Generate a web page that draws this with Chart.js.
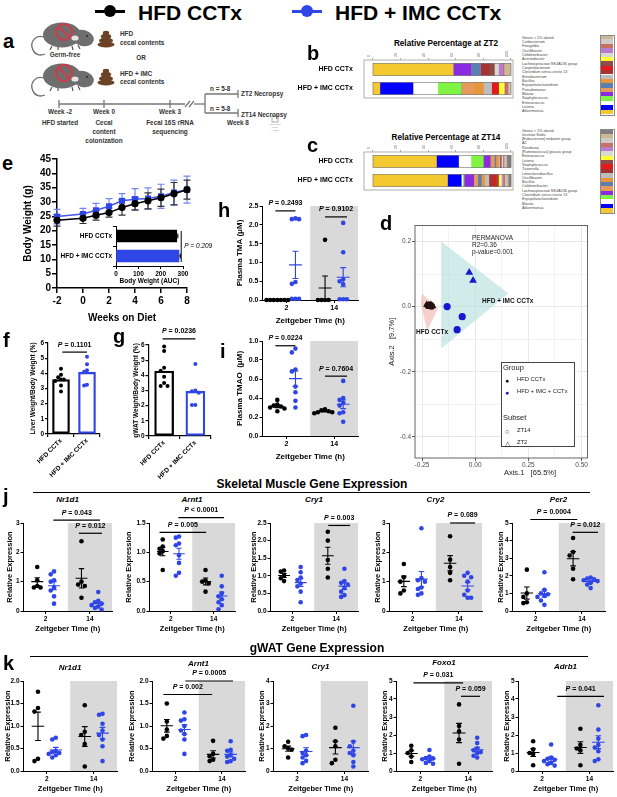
<!DOCTYPE html>
<html>
<head>
<meta charset="utf-8">
<script src="https://cdn.jsdelivr.net/npm/chart.js@4.4.1/dist/chart.umd.min.js"></script>
<style>
  body { margin: 0; background: #fff; font-family: "Liberation Sans", Arial, sans-serif; }
  #fig { position: relative; width: 617px; height: 797px; overflow: hidden; background: #fff; }
  .t { position: absolute; white-space: nowrap; line-height: 1; }
  canvas { position: absolute; }
</style>
</head>
<body>
<div id="fig"></div>
<script>
// ---------- data ----------
const groupLabels = ['HFD CCTx', 'HFD + IMC CCTx'];
const ztLabels = ['2', '14'];

// e: body weight
const weeks = [-2, 0, 1, 2, 3, 4, 5, 6, 7, 8];
const bwHfd = [23.6, 24.3, 25.4, 26.3, 28.1, 29.4, 30.4, 31.5, 32.9, 34.3];
const bwHfdSd = [2.0, 1.8, 1.7, 1.6, 2.7, 2.2, 2.8, 3.0, 3.9, 3.3];
const bwImc = [24.9, 25.8, 27.1, 28.5, 30.4, 31.0, 31.2, 32.0, 33.3, 34.3];
const bwImcSd = [2.5, 2.0, 2.4, 2.7, 2.5, 3.7, 3.7, 4.2, 4.3, 4.7];
const aucValues = [272, 282];
const aucSem = [5, 6];

// f, g
const liverHfd = [4.3, 3.9, 3.75, 3.6, 3.6, 3.5, 3.2, 2.8];
const liverImc = [5.1, 4.6, 4.2, 4.1, 3.25, 3.2];
const gwatHfd = [5.9, 5.6, 4.5, 4.3, 3.9, 3.5, 3.3, 3.3];
const gwatImc = [4.75, 3.0, 2.95, 2.85, 2.05, 2.05];

// h, i : [HFD ZT2, IMC ZT2, HFD ZT14, IMC ZT14]
const tma = [[0, 0, 0, 0, 0, 0, 0], [2.17, 2.15, 2.15, 0.48, 0.43, 0.03, 0.03, 0.03], [1.6, 0, 0, 0, 0], [2.05, 1.27, 0.55, 0.5, 0.42, 0.02, 0.02, 0.02]];
const tmao = [[0.38, 0.33, 0.32, 0.31, 0.3, 0.29, 0.26], [0.92, 0.88, 0.7, 0.68, 0.52, 0.46, 0.37, 0.3], [0.28, 0.27, 0.26, 0.25, 0.25, 0.24], [0.58, 0.4, 0.38, 0.35, 0.32, 0.25, 0.24, 0.15]];

// j: skeletal muscle
const muscleGenes = ['Nr1d1', 'Arnt1', 'Cry1', 'Cry2', 'Per2'];
const muNr1d1 = [[1.5, 1.05, 0.85, 0.8, 0.8], [1.35, 1.25, 1.05, 1.0, 0.8, 0.7, 0.5, 0.25], [2.38, 1.0, 0.9, 0.85, 0.45], [0.65, 0.35, 0.3, 0.25, 0.2, 0.15, 0.1, 0.05]];
const muArnt1 = [[1.22, 1.1, 1.06, 1.02, 0.98, 0.7], [1.27, 1.25, 1.15, 1.12, 0.95, 0.82, 0.65, 0.6], [0.7, 0.52, 0.5, 0.47, 0.33], [0.6, 0.42, 0.3, 0.25, 0.2, 0.15, 0.1, 0.03]];
const muCry1 = [[1.15, 1.12, 1.0, 0.93, 0.85], [1.25, 1.1, 0.95, 0.88, 0.78, 0.7, 0.55, 0.25], [2.25, 2.0, 1.45, 1.2, 0.95], [1.2, 0.85, 0.8, 0.75, 0.65, 0.55, 0.45, 0.4]];
const muCry2 = [[1.6, 1.15, 1.0, 0.7, 0.6], [2.82, 1.12, 1.05, 1.0, 0.8, 0.75, 0.6, 0.55], [2.55, 1.75, 1.5, 1.3, 1.05], [1.3, 1.2, 1.15, 1.0, 0.7, 0.55, 0.45, 0.45]];
const muPer2 = [[2.35, 1.0, 0.8, 0.5, 0.45], [2.2, 1.2, 1.0, 0.95, 0.85, 0.8, 0.6, 0.35], [4.15, 3.35, 3.15, 2.4, 1.8], [1.9, 1.85, 1.8, 1.75, 1.7, 1.6, 1.5, 1.3]];
const musclePvals = [['= 0.043', '= 0.012'], ['< 0.0001', '= 0.005'], ['= 0.003'], ['= 0.089'], ['= 0.0004', '= 0.012']];

// k: gWAT
const watGenes = ['Nr1d1', 'Arnt1', 'Cry1', 'Foxo1', 'Adrb1'];
const watNr1d1 = [[1.76, 1.4, 1.32, 0.27, 0.22], [0.74, 0.7, 0.45, 0.42, 0.4, 0.38, 0.35, 0.3], [1.46, 0.87, 0.8, 0.6, 0.1], [1.27, 1.25, 1.05, 0.9, 0.8, 0.7, 0.55, 0.22]];
const watArnt1 = [[1.5, 1.1, 0.92, 0.78, 0.72], [1.3, 1.15, 1.12, 1.0, 0.9, 0.82, 0.7, 0.38], [0.67, 0.38, 0.33, 0.25, 0.22], [0.66, 0.47, 0.45, 0.36, 0.32, 0.27, 0.22, 0.2]];
const watCry1 = [[1.3, 1.1, 1.0, 0.95, 0.6], [1.6, 1.55, 0.9, 0.8, 0.7, 0.6, 0.45, 0.35], [1.92, 1.32, 1.1, 0.5, 0.35], [2.9, 1.3, 1.1, 0.9, 0.8, 0.7, 0.4, 0.2]];
const watFoxo1 = [[1.4, 1.15, 1.0, 0.8, 0.5], [1.17, 0.8, 0.72, 0.7, 0.65, 0.55, 0.45, 0.4], [3.7, 2.5, 2.2, 1.75, 0.4], [1.85, 1.55, 1.25, 1.15, 1.05, 1.0, 0.85, 0.75]];
const watAdrb1 = [[1.65, 1.2, 1.0, 0.95, 0.32], [1.47, 0.75, 0.68, 0.62, 0.55, 0.45, 0.38, 0.3], [2.35, 1.45, 1.25, 1.15, 0.32], [3.65, 2.3, 1.8, 1.45, 1.3, 1.1, 0.65, 0.55]];
const watPvals = [[], ['= 0.0005', '= 0.002'], [], ['= 0.031', '= 0.059'], ['= 0.041']];

// b, c: relative abundance (legend order, top to bottom)
const zt2Genera = ['Genus < 1% abund.', 'Cutibacterium', 'Finegoldia', 'Oscillibacter', 'Colidextribacter', 'Acinetobacter', 'Lachnospiraceae NK4A136 group', 'Corynebacterium', 'Clostridium sensu stricto 13', 'Brevibacterium', 'Bacillus', 'Erysipelatoclostridium', 'Pseudomonas', 'Blautia', 'Staphylococcus', 'Enterococcus', 'Listeria', 'Akkermansia'];
const zt2Colors = ['#cbb995', '#cfcbc6', '#c77067', '#b77bd1', '#d9d9d0', '#ffff33', '#8e4b4b', '#e31a1c', '#a83232', '#bdbdbd', '#e8963c', '#5b7fb3', '#e39a5b', '#8a2be2', '#7ff442', '#ffffff', '#0000ff', '#f4c92f'];
const zt2Hfd = [5, 0, 1, 3, 3, 0, 4, 0, 6, 0, 0, 7, 0, 13, 0, 0, 0, 58];
const zt2Imc = [1, 1, 3, 0, 0, 4, 0, 5, 0, 6, 7, 0, 9, 0, 17, 18, 24, 5];
const zt14Genera = ['Genus < 1% abund.', 'Incertae Sedis', '[Eubacterium] nodatum group', 'A2', 'Roseburia', '[Ruminococcus] gnavus group', 'Enterococcus', 'Listeria', 'Staphylococcus', 'Tuzzerella', 'Limosilactobacillus', 'Oscillibacter', 'Bacillus', 'Colidextribacter', 'Lachnospiraceae NK4A136 group', 'Clostridium sensu stricto 13', 'Erysipelatoclostridium', 'Blautia', 'Akkermansia'];
const zt14Colors = ['#7f7f7f', '#cbb995', '#cfcbc6', '#c77067', '#b77bd1', '#d9d9d0', '#ffff33', '#8e4b4b', '#e31a1c', '#a83232', '#bdbdbd', '#e8963c', '#5b7fb3', '#e39a5b', '#8a2be2', '#7ff442', '#ffffff', '#0000ff', '#f4c92f'];
const zt14Hfd = [3, 1, 1, 0.5, 0.5, 1, 0, 0.5, 0, 0.5, 1, 2, 1, 3, 5, 9, 9, 16, 46];
const zt14Imc = [2, 1.5, 1, 1, 1, 1, 1.5, 1.5, 2, 3.5, 3, 2.5, 2.5, 3, 7, 1, 1, 10, 54];

// d: PCoA
const pcoaHfdZt2 = [[-0.228, 0.006], [-0.218, 0.004], [-0.208, 0.006], [-0.2, 0.002], [-0.213, -0.001]];
const pcoaHfdZt14 = [[-0.222, 0.003], [-0.205, 0.001], [-0.214, 0.005]];
const pcoaImcZt2 = [[-0.028, 0.105], [-0.01, 0.08]];
const pcoaImcZt14 = [[-0.132, 0.0], [-0.061, -0.031], [-0.085, -0.071]];
const hullHfd = [[-0.25, 0.04], [-0.175, -0.006], [-0.226, -0.074], [-0.255, 0.009]];
const hullImc = [[-0.16, 0.2], [0.156, 0.04], [-0.16, -0.129]];

// ---------- setup ----------
const FAM = '"Liberation Sans", Arial, sans-serif';
const BLUE = '#2f45e6';
const CENTERS = [0.62, 1.38, 2.62, 3.38];
const GROUP_COLORS = ['#000', BLUE, '#000', BLUE];
Chart.defaults.font.family = FAM;
Chart.defaults.color = '#000';
Chart.defaults.plugins.legend.display = false;
Chart.defaults.plugins.tooltip.enabled = false;

const fig = document.getElementById('fig');

function text(str, x, y, size, o = {}) {
  const d = document.createElement('div');
  d.className = 't';
  d.innerHTML = str;
  d.style.left = x + 'px';
  d.style.top = y + 'px';
  d.style.fontSize = size + 'px';
  d.style.fontWeight = o.bold === false ? 'normal' : 'bold';
  if (o.italic) d.style.fontStyle = 'italic';
  d.style.color = o.color || '#000';
  const tx = o.align === 'center' ? '-50%' : o.align === 'right' ? '-100%' : '0';
  d.style.transform = 'translate(' + tx + ',-50%)';
  fig.appendChild(d);
  return d;
}

function letter(ch, x, baseline) {
  const d = document.createElement('div');
  d.className = 't';
  d.textContent = ch;
  d.style.cssText += 'left:' + x + 'px;top:' + (baseline - 17) + 'px;font-size:20px;line-height:20px;font-weight:bold;';
  fig.appendChild(d);
}

function box(x, y, w, h, css) {
  const d = document.createElement('div');
  d.style.cssText = 'position:absolute;left:' + x + 'px;top:' + y + 'px;width:' + w + 'px;height:' + h + 'px;' + css;
  fig.appendChild(d);
  return d;
}

function makeChart(rect, pad, config) {
  const [l, t, r, b] = rect;
  const [pl, pt, pr, pb] = pad;
  const w = Math.round(r - l + pl + pr), h = Math.round(b - t + pt + pb);
  const c = document.createElement('canvas');
  c.width = w; c.height = h;
  c.style.left = Math.round(l - pl) + 'px';
  c.style.top = Math.round(t - pt) + 'px';
  c.style.width = w + 'px'; c.style.height = h + 'px';
  fig.appendChild(c);
  const opts = config.options;
  opts.responsive = false;
  opts.animation = false;
  const used = {};
  for (const id in opts.scales) {
    const s = opts.scales[id];
    if (s.display === false) continue;
    const pos = s.position || (id[0] === 'y' ? 'left' : 'bottom');
    used[pos] = true;
    const size = {left: pl, top: pt, right: pr, bottom: pb}[pos];
    s.afterFit = sc => {
      if (pos === 'left' || pos === 'right') sc.width = size; else sc.height = size;
      sc.paddingLeft = sc.paddingRight = sc.paddingTop = sc.paddingBottom = 0;
    };
  }
  opts.layout = {padding: {left: used.left ? 0 : pl, top: used.top ? 0 : pt, right: used.right ? 0 : pr, bottom: used.bottom ? 0 : pb}};
  return new Chart(c, config);
}

function swarm(vals, tol, w) {
  const cands = [0, -0.5, 0.5, -1, 1, -0.25, 0.25, -0.75, 0.75, -1.25, 1.25, -1.5, 1.5];
  const placed = [];
  return vals.map(v => {
    let c = cands.find(k => !placed.some(p => Math.abs(p.v - v) < tol && Math.abs(p.c - k) < 0.5));
    if (c === undefined) c = 0;
    placed.push({v, c});
    return c * w;
  });
}

function stats(vals) {
  const n = vals.length;
  const m = vals.reduce((a, v) => a + v, 0) / n;
  const sd = Math.sqrt(vals.reduce((a, v) => a + (v - m) * (v - m), 0) / (n - 1));
  return {m, se: sd / Math.sqrt(n)};
}

function drawP(ctx, str, cx, cy, size, allItalic) {
  const f1 = 'italic bold ' + size + 'px ' + FAM;
  const f2 = (allItalic ? 'italic ' : '') + 'bold ' + size + 'px ' + FAM;
  const rest = ' ' + str;
  ctx.font = f1; const w1 = ctx.measureText('P').width;
  ctx.font = f2; const w2 = ctx.measureText(rest).width;
  const x0 = cx - (w1 + w2) / 2;
  ctx.textBaseline = 'middle'; ctx.textAlign = 'left'; ctx.fillStyle = '#000';
  ctx.font = f1; ctx.fillText('P', x0, cy);
  ctx.font = f2; ctx.fillText(rest, x0 + w1, cy);
}

const shadePlugin = {
  id: 'shade',
  beforeDraw(chart) {
    const {ctx, chartArea: a, scales: {x}} = chart;
    const x0 = x.getPixelForValue(2);
    ctx.save(); ctx.fillStyle = '#d9d9d9';
    ctx.fillRect(x0, a.top, a.right - x0, a.bottom - a.top);
    ctx.restore();
  }
};

function meanSemPlugin(groups) {
  return {
    id: 'meanSem',
    afterDatasetsDraw(chart) {
      const {ctx, scales: {x, y}} = chart;
      groups.forEach((vals, g) => {
        const {m, se} = stats(vals);
        const cx = x.getPixelForValue(CENTERS[g]);
        const half = (x.getPixelForValue(1) - x.getPixelForValue(0)) * 0.27;
        const cap = half * 0.45;
        const py = y.getPixelForValue(m), top = y.getPixelForValue(m + se), bot = y.getPixelForValue(Math.max(m - se, 0));
        ctx.save(); ctx.strokeStyle = GROUP_COLORS[g]; ctx.lineWidth = 1.1;
        ctx.beginPath();
        ctx.moveTo(cx - half, py); ctx.lineTo(cx + half, py);
        ctx.moveTo(cx, top); ctx.lineTo(cx, bot);
        ctx.moveTo(cx - cap, top); ctx.lineTo(cx + cap, top);
        ctx.moveTo(cx - cap, bot); ctx.lineTo(cx + cap, bot);
        ctx.stroke(); ctx.restore();
      });
    }
  };
}

function sigPlugin(list, size) {
  return {
    id: 'sig',
    afterDraw(chart) {
      const {ctx, scales: {x, y}} = chart;
      list.forEach(s => {
        const x1 = x.getPixelForValue(s.x1), x2 = x.getPixelForValue(s.x2), py = y.getPixelForValue(s.y);
        ctx.save(); ctx.strokeStyle = '#000'; ctx.lineWidth = 1.2;
        ctx.beginPath(); ctx.moveTo(x1, py); ctx.lineTo(x2, py); ctx.stroke();
        drawP(ctx, s.p, (x1 + x2) / 2, py - 7.5, size || 7, false);
        ctx.restore();
      });
    }
  };
}

function axisStyle(tick, tickLen, lw) {
  return {
    ticks: {font: {size: tick, weight: 'bold'}, color: '#000', padding: 1, autoSkip: false, maxRotation: 0},
    grid: {drawOnChartArea: false, drawTicks: true, tickLength: tickLen, color: '#000', lineWidth: lw},
    border: {color: '#000', width: lw}
  };
}

function dotPlot(rect, pad, groups, cfg) {
  const plotH = rect[3] - rect[1];
  const tol = cfg.ymax * 4.5 / plotH;
  const datasets = groups.map((vals, g) => {
    const offs = swarm(vals, tol, 0.3);
    return {data: vals.map((v, i) => ({x: CENTERS[g] + offs[i], y: v})), backgroundColor: GROUP_COLORS[g], pointRadius: 2.3, pointBorderWidth: 0, clip: false};
  });
  const xs = axisStyle(cfg.tick, 3, 1), ys = axisStyle(cfg.tick, 3, 1);
  return makeChart(rect, pad, {
    type: 'scatter',
    data: {datasets},
    options: {
      scales: {
        x: Object.assign(xs, {
          type: 'linear', min: 0, max: 4,
          afterBuildTicks: s => { s.ticks = [{value: 1}, {value: 3}]; },
          title: {display: true, text: 'Zeitgeber Time (h)', font: {size: cfg.title, weight: 'bold'}, color: '#000', padding: 0}
        }),
        y: Object.assign(ys, {
          type: 'linear', min: 0, max: cfg.ymax,
          title: {display: true, text: cfg.ytitle, font: {size: cfg.title, weight: 'bold'}, color: '#000', padding: 0}
        })
      }
    },
    plugins: [shadePlugin, meanSemPlugin(groups), sigPlugin(cfg.sig || []),
      {id: 'fmt', beforeInit(chart) {
        chart.options.scales.x.ticks.callback = v => v === 1 ? ztLabels[0] : ztLabels[1];
        chart.options.scales.y.ticks.stepSize = cfg.step;
        chart.options.scales.y.ticks.callback = v => v.toFixed(cfg.dec);
      }}]
  });
}

// bar + dots on one linear x scale: group 0 at x=0, group 1 at x=1
function barDots(rect, pad, hfd, imc, ytitle, sig, barPx) {
  const tol = 6 * 4.5 / (rect[3] - rect[1]);
  const o0 = swarm(hfd, tol, 0.22), o1 = swarm(imc, tol, 0.22);
  const xs = axisStyle(6.5, 3, 1.2), ys = axisStyle(6.5, 3, 1.2);
  xs.ticks.maxRotation = 45; xs.ticks.minRotation = 45; xs.ticks.padding = 0;
  return makeChart(rect, pad, {
    type: 'bar',
    data: {
      datasets: [
        {type: 'scatter', data: hfd.map((v, i) => ({x: o0[i], y: v})), backgroundColor: '#000', pointRadius: 2, pointBorderWidth: 0, clip: false},
        {type: 'scatter', data: imc.map((v, i) => ({x: 1 + o1[i], y: v})), backgroundColor: BLUE, pointRadius: 2, pointBorderWidth: 0, clip: false},
        {type: 'bar', data: [{x: 0, y: stats(hfd).m}, {x: 1, y: stats(imc).m}], backgroundColor: 'rgba(255,255,255,0)', borderColor: ['#000', BLUE], borderWidth: 1.6, borderSkipped: false, barThickness: barPx}
      ]
    },
    options: {
      scales: {
        x: Object.assign(xs, {type: 'linear', offset: false, min: -0.5, max: 1.5,
          afterBuildTicks: s => { s.ticks = [{value: 0}, {value: 1}]; }}),
        y: Object.assign(ys, {type: 'linear', min: 0, max: 6,
          title: {display: true, text: ytitle, font: {size: 6.5, weight: 'bold'}, color: '#000', padding: 0}})
      }
    },
    plugins: [sigPlugin(sig, 7),
      {id: 'fmt', beforeInit(chart) {
        chart.options.scales.x.ticks.callback = v => groupLabels[Math.round(v)];
        chart.options.scales.y.ticks.stepSize = 1;
      }}]
  });
}

function stackChart(rect, pad, genera, colors, hfd, imc) {
  const datasets = [];
  for (let i = genera.length - 1; i >= 0; i--) {
    datasets.push({label: genera[i], data: [hfd[i], imc[i]], backgroundColor: colors[i], borderWidth: 0, barThickness: 12});
  }
  return makeChart(rect, pad, {
    type: 'bar',
    data: {labels: groupLabels, datasets},
    options: {
      indexAxis: 'y',
      scales: {
        x: {stacked: true, position: 'top', min: -6.5, max: 101.5,
          afterBuildTicks: s => { s.ticks = [0, 20, 40, 60, 80, 100].map(v => ({value: v})); },
          ticks: {font: {size: 3.5, weight: 'normal'}, color: '#666', padding: 1, minRotation: 90, maxRotation: 90, autoSkip: false},
          grid: {drawOnChartArea: false, tickLength: 2, color: '#777', lineWidth: 0.6},
          border: {display: false}},
        y: {stacked: true,
          ticks: {font: {size: 7, weight: 'bold'}, color: '#000', padding: 3},
          grid: {display: false}, border: {display: false}}
      }
    },
    plugins: [{
      id: 'frame',
      afterDraw(chart) {
        const {ctx, chartArea: a, scales: {x, y}} = chart;
        ctx.save(); ctx.strokeStyle = '#9a9a9a'; ctx.lineWidth = 0.8;
        ctx.strokeRect(a.left, a.top, a.right - a.left, a.bottom - a.top);
        ctx.strokeStyle = '#6e6e6e'; ctx.lineWidth = 0.6;
        [0, 1].forEach(i => {
          const py = y.getPixelForValue(i);
          ctx.strokeRect(x.getPixelForValue(0), py - 6, x.getPixelForValue(100) - x.getPixelForValue(0), 12);
        });
        ctx.restore();
      }
    }]
  });
}

function genusLegend(names, colors, tx, ty0, step, sx, sy0, sh) {
  names.forEach((n, i) => {
    text(n, tx, ty0 + i * step, 3.7, {bold: false, color: '#444'});
    box(sx, sy0 + i * sh, 13, sh, 'background:' + colors[i] + ';');
  });
  box(sx - 0.5, sy0 - 0.5, 13, sh * names.length, 'border:0.5px solid #888;');
}

// ---------- top legend ----------
box(95, 10, 30, 2.5, 'background:#000;');
box(104, 5, 12, 12, 'background:#000;border-radius:50%;');
text('HFD CCTx', 138, 12, 21);
box(292, 10, 30, 2.5, 'background:' + BLUE + ';');
box(301, 5, 12, 12, 'background:' + BLUE + ';border-radius:50%;');
text('HFD + IMC CCTx', 335, 12, 21);

// ---------- a: schematic ----------
function mouseSvg(dy) {
  return '<g transform="translate(0,' + dy + ')">' +
    '<path d="M46 38 C36 33, 29 42, 33 50 C35 55, 40 56, 45 54" stroke="#6a6a6a" stroke-width="1.3" fill="none"/>' +
    '<ellipse cx="62" cy="35" rx="19" ry="12.5" fill="#6e6e6e"/>' +
    '<ellipse cx="83" cy="38" rx="11" ry="8" transform="rotate(15 83 38)" fill="#6e6e6e"/>' +
    '<ellipse cx="75" cy="38" rx="3.6" ry="2.6" fill="#e4e4e4"/>' +
    '<circle cx="87" cy="36" r="0.9" fill="#222"/>' +
    '<path d="M52 46 l-2 4 M58 47 l0 3 M72 46 l1 4 M78 45 l2 4" stroke="#555" stroke-width="1.2"/>' +
    '<circle cx="64" cy="32" r="8" stroke="#d23a4a" stroke-width="2" fill="none"/>' +
    '<line x1="58.5" y1="26.5" x2="69.5" y2="37.5" stroke="#d23a4a" stroke-width="2"/>' +
    '</g>';
}
function poopSvg(dy) {
  return '<g transform="translate(0,' + dy + ')" fill="#6b4226">' +
    '<ellipse cx="106" cy="44.5" rx="8.5" ry="3"/>' +
    '<ellipse cx="106" cy="40.5" rx="7" ry="3"/>' +
    '<ellipse cx="106" cy="36.5" rx="5.2" ry="2.7"/>' +
    '<ellipse cx="106" cy="33" rx="3.2" ry="2.2"/>' +
    '</g>';
}
const svg = document.createElementNS('http://www.w3.org/2000/svg', 'svg');
svg.setAttribute('width', '300'); svg.setAttribute('height', '150');
svg.style.cssText = 'position:absolute;left:0;top:0;';
svg.innerHTML = mouseSvg(0) + mouseSvg(41) + poopSvg(0) + poopSvg(38) +
  '<g stroke="#777" stroke-width="1.3" fill="none">' +
  '<line x1="59" y1="104" x2="185" y2="104"/>' +
  '<line x1="59" y1="100" x2="59" y2="108"/><line x1="104" y1="100" x2="104" y2="108"/><line x1="170" y1="100" x2="170" y2="108"/>' +
  '<line x1="185" y1="107" x2="190" y2="101"/><line x1="189" y1="107" x2="194" y2="101"/>' +
  '<line x1="194" y1="104" x2="205" y2="104"/><line x1="205" y1="94" x2="205" y2="113"/>' +
  '<line x1="205" y1="94" x2="238" y2="94"/><line x1="205" y1="113" x2="238" y2="113"/>' +
  '<line x1="238" y1="90" x2="238" y2="98"/><line x1="238" y1="109" x2="238" y2="117"/>' +
  '<rect x="272" y="116" width="6" height="6" stroke="#999" stroke-width="0.8"/>' +
  '</g>';
fig.appendChild(svg);
const SC = '#333';
text('Germ-free', 65, 55, 6.4, {align: 'center', color: SC});
text('HFD', 120, 34, 6.4, {color: SC});
text('cecal contents', 120, 43, 6.4, {color: SC});
text('OR', 141, 58, 6.4, {align: 'center', color: SC});
text('HFD + IMC', 120, 74, 6.4, {color: SC});
text('cecal contents', 120, 82, 6.4, {color: SC});
text('n = 5-8', 210, 89, 6.4, {color: SC});
text('n = 5-8', 210, 109, 6.4, {color: SC});
text('ZT2 Necropsy', 241, 94, 6.4, {color: SC});
text('ZT14 Necropsy', 241, 115, 6.4, {color: SC});
text('Week 8', 227, 123, 6.4, {color: SC});
text('Week -2', 60, 112, 6.4, {align: 'center', color: SC});
text('HFD started', 60, 123, 6.4, {align: 'center', color: SC});
text('Week 0', 104, 112, 6.4, {align: 'center', color: SC});
text('Cecal', 104, 123, 6.4, {align: 'center', color: SC});
text('content', 104, 132, 6.4, {align: 'center', color: SC});
text('colonization', 104, 141, 6.4, {align: 'center', color: SC});
text('Week 3', 170, 112, 6.4, {align: 'center', color: SC});
text('Fecal 16S rRNA', 170, 123, 6.4, {align: 'center', color: SC});
text('sequencing', 170, 132, 6.4, {align: 'center', color: SC});
text('Cleveland', 275, 125, 2.5, {align: 'center', bold: false, color: '#999'});
text('Clinic', 275, 128, 2.5, {align: 'center', bold: false, color: '#999'});
text('©2022', 275, 131, 2.5, {align: 'center', bold: false, color: '#999'});

// ---------- b, c ----------
stackChart([364, 60, 513, 98], [74, 10, 2, 2], zt2Genera, zt2Colors, zt2Hfd, zt2Imc);
stackChart([364, 152, 513, 190], [74, 10, 2, 2], zt14Genera, zt14Colors, zt14Hfd, zt14Imc);
text('Relative Percentage at ZT2', 446, 44, 8.2, {align: 'center'});
text('Relative Percentage at ZT14', 446, 138, 8.2, {align: 'center'});
genusLegend(zt2Genera, zt2Colors, 522, 38.5, 4.35, 600, 35, 4.39);
genusLegend(zt14Genera, zt14Colors, 522, 131.5, 4.3, 600, 129.5, 4.37);

// ---------- e ----------
function errPlugin(sets) {
  return {
    id: 'err',
    beforeDatasetsDraw(chart) {
      const {ctx, scales: {x, y}} = chart;
      sets.forEach(s => {
        ctx.save(); ctx.strokeStyle = s.color; ctx.lineWidth = 1.2;
        s.x.forEach((xv, i) => {
          const px = x.getPixelForValue(xv), top = y.getPixelForValue(s.y[i] + s.e[i]), bot = y.getPixelForValue(s.y[i] - s.e[i]);
          ctx.beginPath();
          ctx.moveTo(px, top); ctx.lineTo(px, bot);
          ctx.moveTo(px - 3.5, top); ctx.lineTo(px + 3.5, top);
          ctx.moveTo(px - 3.5, bot); ctx.lineTo(px + 3.5, bot);
          ctx.stroke();
        });
        ctx.restore();
      });
    }
  };
}
{
  const xs = axisStyle(10, 5, 1.5), ys = axisStyle(10, 5, 1.5);
  xs.ticks.stepSize = 2; xs.ticks.padding = 2;
  ys.ticks.stepSize = 5;
  makeChart([57, 158.6, 187, 288], [35, 6, 6, 36], {
    type: 'scatter',
    data: {datasets: [
      {data: weeks.map((w, i) => ({x: w, y: bwHfd[i]})), showLine: true, borderColor: '#000', borderWidth: 1.5, pointRadius: 3.6, pointBackgroundColor: '#000', pointBorderWidth: 0, clip: false},
      {data: weeks.map((w, i) => ({x: w, y: bwImc[i]})), showLine: true, borderColor: '#4356ea', borderWidth: 1.5, pointStyle: 'rect', pointRadius: 4.3, pointBackgroundColor: BLUE, pointBorderWidth: 0, clip: false}
    ]},
    options: {
      scales: {
        x: Object.assign(xs, {type: 'linear', min: -2, max: 8,
          title: {display: true, text: 'Weeks on Diet', font: {size: 10, weight: 'bold'}, color: '#000', padding: 0}}),
        y: Object.assign(ys, {type: 'linear', min: 0, max: 45,
          title: {display: true, text: 'Body Weight (g)', font: {size: 10, weight: 'bold'}, color: '#000', padding: 0}})
      }
    },
    plugins: [errPlugin([
      {x: weeks, y: bwImc, e: bwImcSd, color: '#7586ee'},
      {x: weeks, y: bwHfd, e: bwHfdSd, color: '#333'}
    ])]
  });
}
{
  const xs = axisStyle(6.5, 3, 1), ys = axisStyle(6.5, 3, 1);
  xs.ticks.stepSize = 100;
  makeChart([116, 226, 183, 266], [64, 4, 34, 19], {
    type: 'bar',
    data: {labels: groupLabels, datasets: [{data: aucValues, backgroundColor: ['#000', BLUE], barThickness: 12, borderWidth: 0}]},
    options: {
      indexAxis: 'y',
      scales: {
        x: Object.assign(xs, {type: 'linear', min: 0, max: 300,
          title: {display: true, text: 'Body Weight (AUC)', font: {size: 6.5, weight: 'bold'}, color: '#000', padding: 0}}),
        y: Object.assign(ys, {type: 'category'})
      }
    },
    plugins: [{
      id: 'auc',
      afterDatasetsDraw(chart) {
        const {ctx, scales: {x, y}} = chart;
        ctx.save(); ctx.strokeStyle = '#000'; ctx.lineWidth = 1;
        aucValues.forEach((v, i) => {
          const py = y.getPixelForValue(i), x0 = x.getPixelForValue(v), x1 = x.getPixelForValue(v + aucSem[i]);
          ctx.beginPath(); ctx.moveTo(x0, py); ctx.lineTo(x1, py);
          ctx.moveTo(x1, py - 2.5); ctx.lineTo(x1, py + 2.5); ctx.stroke();
        });
        const bx = x.getPixelForValue(292);
        const y0 = y.getPixelForValue(0) - 5, y1 = y.getPixelForValue(1) + 6;
        ctx.beginPath(); ctx.moveTo(bx, y0); ctx.lineTo(bx, y1); ctx.stroke();
        ctx.font = 'italic 6.5px ' + FAM; ctx.fillStyle = '#000'; ctx.textBaseline = 'middle';
        ctx.fillText('P = 0.209', bx + 3, (y0 + y1) / 2);
        ctx.restore();
      }
    }]
  });
}

// ---------- f, g ----------
barDots([48, 343, 100, 434], [19, 10, 4, 45], liverHfd, liverImc, 'Liver Weight/Body Weight (%)',
  [{x1: 0.05, x2: 1.0, y: 5.4, p: '= 0.1101'}], 17);
barDots([148, 345, 210, 436], [16.5, 18, 4, 45], gwatHfd, gwatImc, 'gWAT Weight/Body Weight (%)',
  [{x1: -0.05, x2: 1.0, y: 6.4, p: '= 0.0236'}], 19);

// ---------- h, i ----------
dotPlot([262, 206, 358, 300], [27.5, 10, 3, 26], tma, {ymax: 2.5, step: 0.5, dec: 1, tick: 7, title: 8, ytitle: 'Plasma TMA (\u03bcM)',
  sig: [{x1: 0.54, x2: 1.38, y: 2.37, p: '= 0.2493'}, {x1: 2.62, x2: 3.54, y: 2.21, p: '= 0.9102'}]});
dotPlot([262, 341, 358, 436], [27.5, 10, 3, 26], tmao, {ymax: 1.0, step: 0.2, dec: 1, tick: 7, title: 8, ytitle: 'Plasma TMAO  (\u03bcM)',
  sig: [{x1: 0.54, x2: 1.38, y: 0.95, p: '= 0.0224'}, {x1: 2.62, x2: 3.54, y: 0.63, p: '= 0.7604'}]});

// ---------- d ----------
{
  const major = (v, s) => Math.abs(Math.round(v / s) * s - v) < 1e-6;
  const fmt = (v, d) => Math.abs(v) < 1e-9 ? (0).toFixed(d) : v.toFixed(d);
  const gridColor = s => c => c.tick && major(c.tick.value, s) ? '#e2e2e2' : '#f0f0f0';
  const tickColor = s => c => c.tick && major(c.tick.value, s) ? '#333' : 'rgba(0,0,0,0)';
  const pts = a => a.map(([x, y]) => ({x, y}));
  makeChart([415, 225, 588, 458], [28, 4, 4, 14], {
    type: 'scatter',
    data: {datasets: [
      {data: pts(pcoaHfdZt2), pointStyle: 'triangle', pointRadius: 4.2, backgroundColor: '#231212', pointBorderWidth: 0, order: 1, clip: false},
      {data: pts(pcoaHfdZt14), pointStyle: 'circle', pointRadius: 3.5, backgroundColor: '#231212', pointBorderWidth: 0, order: 1, clip: false},
      {data: pts(pcoaImcZt2), pointStyle: 'triangle', pointRadius: 4.5, backgroundColor: '#1717d0', pointBorderWidth: 0, order: 1, clip: false},
      {data: pts(pcoaImcZt14), pointStyle: 'circle', pointRadius: 3.6, backgroundColor: '#1717d0', pointBorderWidth: 0, order: 1, clip: false},
      {type: 'line', data: pts(hullHfd.concat([hullHfd[0]])), fill: 'shape', backgroundColor: 'rgba(240,170,160,0.55)', borderColor: 'rgba(0,0,0,0)', borderWidth: 0, pointRadius: 0, order: 5},
      {type: 'line', data: pts(hullImc.concat([hullImc[0]])), fill: 'shape', backgroundColor: 'rgba(176,222,218,0.6)', borderColor: 'rgba(0,0,0,0)', borderWidth: 0, pointRadius: 0, order: 5}
    ]},
    options: {
      scales: {
        x: {type: 'linear', min: -0.283, max: 0.528,
          ticks: {stepSize: 0.125, includeBounds: false, autoSkip: false, maxRotation: 0, padding: 0, color: '#4d4d4d', font: {size: 6.5, weight: 'normal'},
            callback: v => major(v, 0.25) ? fmt(v, 2) : ''},
          grid: {color: gridColor(0.25), tickColor: tickColor(0.25), tickLength: 3, lineWidth: 0.8},
          border: {display: false}},
        y: {type: 'linear', min: -0.465, max: 0.249,
          ticks: {stepSize: 0.1, includeBounds: false, autoSkip: false, padding: 1, color: '#4d4d4d', font: {size: 6.5, weight: 'normal'},
            callback: v => major(v, 0.2) ? fmt(v, 1) : ''},
          grid: {color: gridColor(0.2), tickColor: tickColor(0.2), tickLength: 3, lineWidth: 0.8},
          border: {display: false},
          title: {display: true, text: 'Axis.2   [9.7%]', font: {size: 7.5, weight: 'normal'}, color: '#222', padding: 0}}
      }
    },
    plugins: [{
      id: 'frame',
      afterDraw(chart) {
        const {ctx, chartArea: a} = chart;
        ctx.save(); ctx.strokeStyle = '#555'; ctx.lineWidth = 0.9;
        ctx.strokeRect(a.left, a.top, a.right - a.left, a.bottom - a.top);
        ctx.restore();
      }
    }]
  });
  text('Axis.1&nbsp;&nbsp;&nbsp;[65.5%]', 530, 473, 7.5, {align: 'center', bold: false, color: '#222'});
  text('PERMANOVA', 472, 238, 6.5, {bold: false, color: '#222'});
  text('R2=0.36', 472, 245, 6.5, {bold: false, color: '#222'});
  text('p-value=0.001', 472, 252, 6.5, {bold: false, color: '#222'});
  text('HFD + IMC CCTx', 482, 301, 6.5, {color: '#111'});
  text('HFD CCTx', 416, 332, 6.5, {color: '#111'});
  box(501, 362, 74, 85, 'border:1px solid #444;box-sizing:border-box;background:#fff;');
  text('Group', 503, 368, 7.5, {bold: false, color: '#222'});
  text('\u25cf', 505, 380, 7, {bold: false, color: '#111'});
  text('HFD CCTx', 517, 380, 5.8, {bold: false, color: '#222'});
  text('\u25cf', 505, 392, 7, {bold: false, color: '#1717d0'});
  text('HFD + IMC + CCTx', 517, 392, 5.8, {bold: false, color: '#222'});
  text('Subset', 503, 418, 7.5, {bold: false, color: '#222'});
  text('\u25cb', 505, 431, 7, {bold: false, color: '#222'});
  text('ZT14', 517, 431, 5.8, {bold: false, color: '#222'});
  text('\u25b3', 504.5, 443, 7, {bold: false, color: '#222'});
  text('ZT2', 517, 443, 5.8, {bold: false, color: '#222'});
}

// ---------- j ----------
const muscleData = [muNr1d1, muArnt1, muCry1, muCry2, muPer2];
const muscleX = [[23, 112], [149, 235], [270, 358], [389, 482], [512, 605]];
const musclePadL = [18.5, 25.5, 21.5, 16.5, 16.5];
const muscleY = [[3, 1, 0], [1.5, 0.5, 1], [2.5, 0.5, 1], [3, 1, 0], [5, 1, 0]];
const muscleSigPos = [
  [[1.35, 3.46, 3.1], [2.5, 3.55, 2.65]],
  [[1.35, 3.49, 1.59], [0.47, 2.65, 1.34]],
  [[2.64, 3.64, 2.43]],
  [[2.62, 3.7, 3.0]],
  [[0.77, 2.8, 5.2], [2.6, 3.7, 4.47]]
];
muscleData.forEach((d, i) => {
  const [l, r] = muscleX[i];
  const [ymax, step, dec] = muscleY[i];
  dotPlot([l, 523, r, 611], [musclePadL[i], 18, 3, 22], d, {ymax, step, dec, tick: 6.5, title: 7.5, ytitle: 'Relative Expression',
    sig: muscleSigPos[i].map((s, k) => ({x1: s[0], x2: s[1], y: s[2], p: musclePvals[i][k]}))});
  text(muscleGenes[i], (l + r) / 2, 500, 8, {italic: true, align: 'center'});
});
text('Skeletal Muscle Gene Expression', 312, 484, 12, {align: 'center'});
box(33, 492, 557, 1.4, 'background:#000;');

// ---------- k ----------
const watData = [watNr1d1, watArnt1, watCry1, watFoxo1, watAdrb1];
const watX = [[23, 117], [152, 245], [273, 368], [396, 492], [518, 613]];
const watPadL = [20.5, 25.5, 16.5, 16.5, 16.5];
const watY = [[2, 0.5, 1], [2, 0.5, 1], [4, 1, 0], [5, 1, 0], [5, 1, 0]];
const watTitleY = [668, 664, 667, 663, 667];
const watSigPos = [
  [],
  [[1.42, 3.48, 2.0], [0.47, 2.58, 1.7]],
  [],
  [[0.71, 2.79, 4.9], [2.7, 3.5, 4.15]],
  [[1.64, 3.62, 4.15]]
];
watData.forEach((d, i) => {
  const [l, r] = watX[i];
  const [ymax, step, dec] = watY[i];
  dotPlot([l, 681, r, 771], [watPadL[i], 14, 3, 22], d, {ymax, step, dec, tick: 6.5, title: 7.5, ytitle: 'Relative Expression',
    sig: watSigPos[i].map((s, k) => ({x1: s[0], x2: s[1], y: s[2], p: watPvals[i][k]}))});
  text(watGenes[i], (l + r) / 2, watTitleY[i], 8, {italic: true, align: 'center'});
});
text('gWAT Gene Expression', 317, 648, 12, {align: 'center'});
box(30, 655.5, 558, 1.4, 'background:#000;');

// ---------- panel letters ----------
letter('a', 3, 48);
letter('b', 307, 60);
letter('c', 307, 152);
letter('d', 380, 230);
letter('e', 2, 170);
letter('f', 3, 347);
letter('g', 113, 343);
letter('h', 218, 217);
letter('i', 220, 358);
letter('j', 3, 503);
letter('k', 3, 670);
</script>
</body>
</html>
